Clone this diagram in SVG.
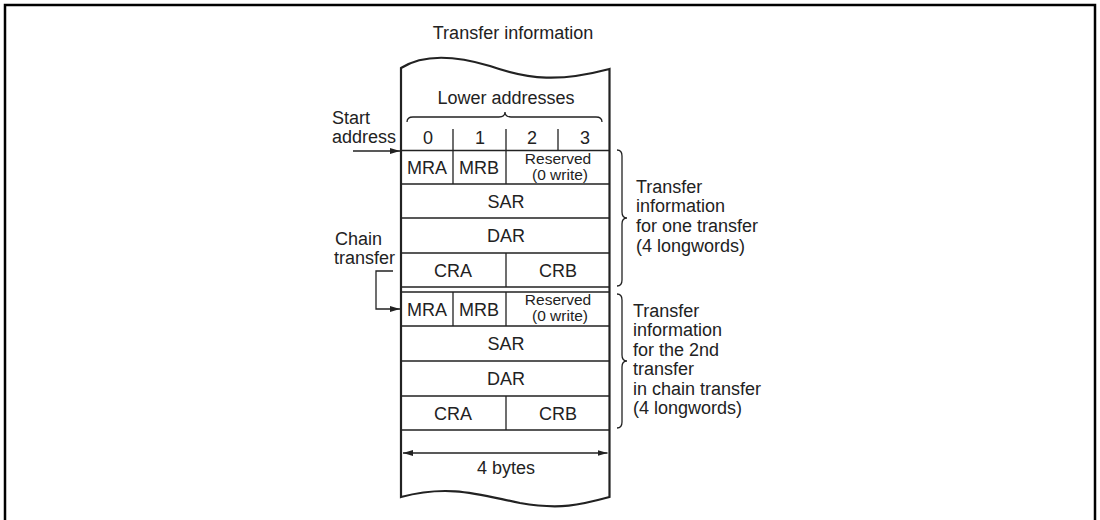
<svg xmlns="http://www.w3.org/2000/svg" width="1100" height="520" viewBox="0 0 1100 520">
<defs>
<style>
text{font-family:"Liberation Sans",Arial,sans-serif;font-size:18px;fill:#222}
.c{text-anchor:middle}
.e{text-anchor:end}
.sm{font-size:15.5px}
.ln{stroke:#222;stroke-width:1.3;fill:none}
.bd{stroke:#222;stroke-width:2.2;fill:none}
</style>
<marker id="ah" viewBox="0 0 10 6" refX="10" refY="3" markerWidth="10" markerHeight="6" markerUnits="userSpaceOnUse" orient="auto-start-reverse">
<path d="M0,0 L10,3 L0,6 Z" fill="#222"/>
</marker>
</defs>
<rect x="5" y="5" width="1090" height="540" fill="#fff" stroke="#000" stroke-width="2.5"/>
<text class="c" x="513" y="39">Transfer information</text>

<g id="memory">
<path class="bd" d="M401,497 L401,68 C420,56 450,54 490,66 C530,80 560,82 609.5,69 L609.5,497 C580,505 560,510 520,503 C480,495 450,484 401,497 Z" fill="#fff"/>
<text class="c" x="506" y="104">Lower addresses</text>
<path class="ln" d="M407,122 Q407,117 413,117 L499,117 Q505,117 505,112 Q505,117 511,117 L596,117 Q602,117 602,122"/>
<g class="ln">
<path d="M453,129 V150 M506,129 V150 M558,129 V150"/>
</g>
<text class="c" x="428" y="144">0</text>
<text class="c" x="480" y="144">1</text>
<text class="c" x="532" y="144">2</text>
<text class="c" x="585" y="144">3</text>
</g>

<g id="block1">
<path class="ln" d="M401,150.5 H609.5 M401,184 H609.5 M401,218 H609.5 M401,253 H609.5 M401,287 H609.5 M453,150.5 V184 M506,150.5 V184 M506,253 V287"/>
<text class="c" x="427" y="174">MRA</text>
<text class="c" x="479" y="174">MRB</text>
<text class="c sm" x="558" y="164">Reserved</text>
<text class="c sm" x="560" y="180">(0 write)</text>
<text class="c" x="506" y="208">SAR</text>
<text class="c" x="506" y="242">DAR</text>
<text class="c" x="453" y="277">CRA</text>
<text class="c" x="558" y="277">CRB</text>
</g>

<g id="block2">
<path class="ln" d="M401,292 H609.5 M401,326 H609.5 M401,361 H609.5 M401,396 H609.5 M401,430 H609.5 M453,292 V326 M506,292 V326 M506,396 V430"/>
<text class="c" x="427" y="316">MRA</text>
<text class="c" x="479" y="316">MRB</text>
<text class="c sm" x="558" y="305">Reserved</text>
<text class="c sm" x="560" y="321">(0 write)</text>
<text class="c" x="506" y="350">SAR</text>
<text class="c" x="506" y="385">DAR</text>
<text class="c" x="453" y="420">CRA</text>
<text class="c" x="558" y="420">CRB</text>
</g>

<g id="size">
<path class="ln" d="M403,453 H607.5" marker-start="url(#ah)" marker-end="url(#ah)"/>
<text class="c" x="506" y="474">4 bytes</text>
</g>

<g id="labels-left">
<text x="332" y="124">Start</text>
<text x="332" y="143">address</text>
<text x="335" y="245">Chain</text>
<text x="334" y="264">transfer</text>
</g>

<g id="labels-right">
<path class="ln" d="M617,150 Q622,150 622,156 L622,212 Q622,218 627,218 Q622,218 622,224 L622,280 Q622,286 617,286"/>
<text x="636" y="193">Transfer</text>
<text x="636" y="212">information</text>
<text x="636" y="232">for one transfer</text>
<text x="636" y="252">(4 longwords)</text>
<path class="ln" d="M617,294 Q622,294 622,300 L622,355 Q622,361 627,361 Q622,361 622,367 L622,422 Q622,428 617,428"/>
<text x="633" y="317">Transfer</text>
<text x="633" y="336">information</text>
<text x="633" y="356">for the 2nd</text>
<text x="633" y="375">transfer</text>
<text x="633" y="395">in chain transfer</text>
<text x="633" y="414">(4 longwords)</text>
</g>

<g id="connectors">
<path class="ln" d="M353,151 H400" marker-end="url(#ah)"/>
<path class="ln" d="M393,271 H376 V309 H400" marker-end="url(#ah)"/>
</g>
</svg>
